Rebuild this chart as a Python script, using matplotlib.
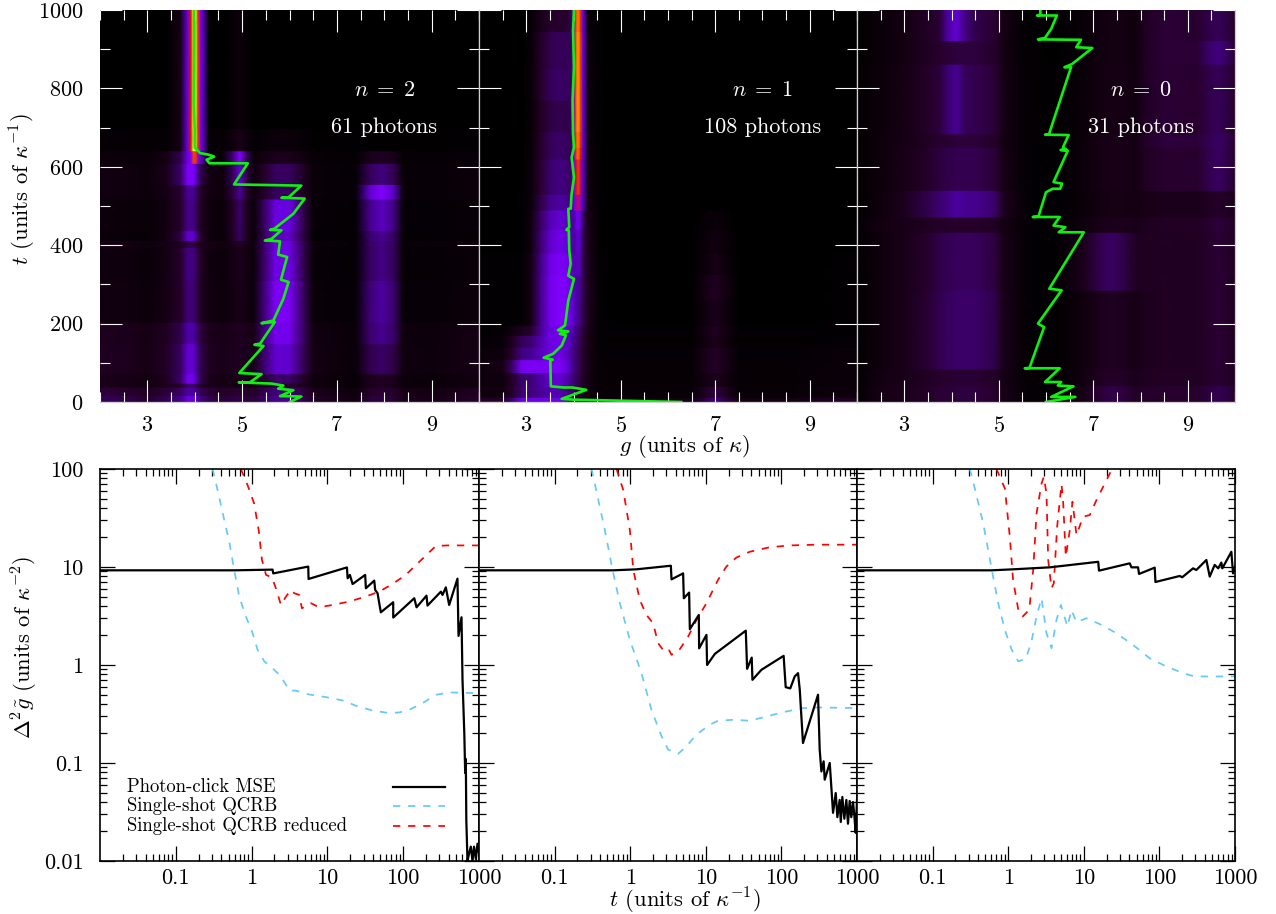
import numpy as np
import matplotlib
matplotlib.use('Agg')
import matplotlib.pyplot as plt
from matplotlib.colors import LinearSegmentedColormap
from matplotlib.ticker import LogLocator, NullFormatter

plt.rcParams['font.family'] = ['cmr10', 'DejaVu Serif']
plt.rcParams['mathtext.fontset'] = 'cm'
plt.rcParams['axes.formatter.use_mathtext'] = True
plt.rcParams['axes.unicode_minus'] = False

# ---- top row, green estimate g(t) for each trajectory ----
g_est_n2 = [3.99, 3.99, 3.98, 4.00, 4.00, 4.11, 4.29, 4.41, 4.25, 4.31, 5.12, 4.83, 6.25, 5.97, 5.83, 6.32, 6.08, 5.68, 5.59, 5.83, 5.62, 5.48, 5.80, 5.76, 5.95, 5.82, 5.98, 5.87, 5.66, 5.41, 5.69, 5.38, 5.26, 5.45, 4.94, 5.41, 5.16, 4.93, 5.62, 5.87, 5.76, 6.08, 5.80, 6.25, 6.01]
t_est_n2 = [1000, 854, 769, 692, 650, 635, 631, 626, 618, 609, 609, 555, 552, 521, 521, 519, 480, 442, 439, 438, 416, 412, 410, 376, 370, 312, 306, 263, 208, 201, 204, 149, 146, 143, 74, 71, 50, 50, 47, 42, 34, 30, 15, 14, 0]

g_est_n1 = [4.01, 3.99, 4.01, 3.98, 3.99, 4.01, 3.96, 4.01, 3.96, 3.94, 3.89, 3.91, 3.85, 3.90, 3.91, 3.94, 3.89, 4.01, 3.89, 3.82, 3.67, 3.89, 3.71, 3.84, 3.75, 3.57, 3.37, 3.56, 3.51, 3.52, 3.78, 3.98, 4.27, 3.75, 4.00, 6.28]
t_est_n1 = [1000, 947, 854, 769, 684, 650, 624, 573, 531, 493, 493, 446, 439, 438, 387, 353, 322, 314, 259, 195, 183, 180, 174, 170, 144, 123, 113, 108, 106, 40, 37, 37, 31, 8, 6, 0]

g_est_n0 = [5.88, 5.88, 5.81, 6.23, 6.11, 5.98, 5.83, 6.74, 6.64, 6.98, 6.55, 6.39, 6.53, 6.06, 5.98, 6.48, 6.36, 6.44, 6.31, 6.46, 6.16, 6.34, 6.30, 6.14, 6.00, 5.84, 5.72, 6.29, 6.16, 6.41, 6.27, 6.80, 6.07, 6.33, 5.83, 5.96, 5.65, 5.55, 6.29, 5.98, 6.32, 6.25, 6.58, 6.11, 6.62, 6.00]
t_est_n0 = [1000, 988, 986, 986, 952, 929, 925, 924, 905, 903, 862, 854, 854, 682, 682, 681, 650, 643, 643, 641, 561, 557, 544, 544, 535, 473, 472, 472, 450, 446, 433, 433, 289, 285, 200, 191, 87, 86, 86, 51, 51, 42, 40, 13, 13, 0]

# ---- top row, heat maps: g columns, band profiles, strength per click interval ----
g_cols_n2 = [2.0, 2.6, 3.0, 3.4, 3.7, 3.85, 3.92, 3.97, 4.02, 4.07, 4.13, 4.3, 4.6, 4.8, 4.95, 5.1, 5.25, 5.45, 5.7, 6.0, 6.3, 6.5, 7.4, 7.7, 7.95, 8.2, 8.4, 9.0, 10.0]
bands_n2 = [
    [0] * 4 + [.1, .5, .76, 1, 1, .8, .55, 0] + [0] * 17,
    [0, 0, 0, .1, .45, 1, 1, 1, .8, .6, .35, .05] + [0] * 17,
    [0] * 13 + [.5, 1, .4] + [0] * 13,
    [0] * 17 + [.5, 1, 1, .45] + [0] * 8,
    [0] * 23 + [.8, 1, .75, 0, 0, 0],
    [1, .9, .7, .9, .9, .9, .9, .9, .9, .9, .9, .9, .8, .8, .8, .8, .8, .8, .8, .8, .7, .6, .3, .5, .5, .5, .5, .4, .7],
]
t_edges_n2 = [0, 17, 38, 48, 72, 149, 204, 310, 395, 412, 437, 518, 555, 609, 641, 697, 1000]
levels_n2 = [
    [0, .25, .03, .15, .1, .27],
    [0, .2, .03, .15, .1, .22],
    [0, .2, 0, .1, .08, .12],
    [0, .42, .03, .2, .1, .12],
    [0, .34, .03, .35, .22, .15],
    [0, .28, .04, .42, .3, .14],
    [0, .25, .05, .5, .36, .08],
    [0, .28, .08, .46, .32, .07],
    [0, .15, .08, .42, .3, .1],
    [0, .42, .25, .42, .35, .05],
    [0, .3, .25, .45, .42, .06],
    [0, .3, .32, .22, .55, .08],
    [0, .5, .42, .22, .3, .08],
    [.8, .45, .55, .08, .12, .06],
    [1, 0, .1, .03, 0, .03],
    [1, 0, .06, 0, 0, 0],
]

g_cols_n1 = [2.0, 2.5, 2.7, 2.9, 3.1, 3.3, 3.5, 3.7, 3.85, 3.95, 4.02, 4.06, 4.1, 4.15, 4.2, 4.3, 4.5, 4.8, 6.5, 6.8, 7.0, 7.2, 7.5, 8.5, 9.5, 10.0]
bands_n1 = [
    [0] * 9 + [.3, .72, .9, .95, .85, .55, 0] + [0] * 10,
    [0, 0, 0, 0, .15, .6, .9, 1, .95, .85, .75, .7, .65, .55, .45, .25, .05, 0] + [0] * 8,
    [0, .1, .5, 1, .9, .5, .3, .2, .1, .05] + [0] * 16,
    [0] * 18 + [0, .6, 1, .6, 0, 0, 0, 0],
    [.6, .5, .5, .5, .5, .5, .5, .5, .4, .3, .2, .1, .1, .1, .1, .1, .2, .3, .3, .3, .3, .3, .3, .3, .5, .5],
]
t_edges_n1 = [0, 12, 40, 75, 108, 140, 170, 195, 260, 325, 380, 440, 490, 530, 620, 650, 690, 770, 850, 945, 1000]
levels_n1 = [
    [0, .3, .35, .25, .3],
    [.1, .32, .25, .2, .12],
    [.12, .38, .25, .1, .1],
    [.15, .42, .5, .15, .1],
    [.18, .42, .3, .15, .08],
    [.2, .46, .25, .12, .04],
    [.25, .5, .12, .15, .03],
    [.3, .58, 0, .12, .02],
    [.42, .58, 0, .15, .02],
    [.48, .56, 0, .1, .02],
    [.5, .52, 0, .08, 0],
    [.56, .48, 0, .05, 0],
    [.76, .4, 0, 0, 0],
    [.84, .34, 0, 0, 0],
    [.9, .3, 0, 0, 0],
    [.92, .3, 0, 0, 0],
    [.94, .26, 0, 0, 0],
    [.94, .3, 0, 0, 0],
    [.94, .28, 0, 0, 0],
    [.92, .2, 0, 0, 0],
]

g_cols_n0 = [2.0, 2.3, 2.6, 3.0, 3.5, 3.75, 3.9, 4.1, 4.3, 4.5, 4.9, 5.1, 5.6, 6.2, 6.8, 7.1, 7.35, 7.6, 7.9, 8.1, 8.5, 9.2, 9.45, 9.65, 9.85, 10.0]
bands_n0 = [
    [0] * 5 + [.1, .8, 1, .7, .3, 0] + [0] * 15,
    [0, 0, .05, .2, .6, .8, .9, 1, 1, 1, .8, .3, 0] + [0] * 13,
    [0] * 14 + [.4, .85, 1, .8, .35, .1] + [0] * 6,
    [0] * 18 + [0, .6, 1, .8, .8, .8, .7, .6],
    [0] * 21 + [.2, .8, 1, .7, .4],
    [.1, .5, .7, .8, .9, 1, 1, 1, 1, 1, .9, .6, .2, .1, .4, .6, .7, .8, .8, .8, .8, .8, .8, .9, .9, .7],
]
t_edges_n0 = [0, 42, 85, 285, 433, 472, 540, 650, 684, 862, 922, 1000]
levels_n0 = [
    [.08, .08, .14, .08, .06, .15],
    [.06, .08, .08, .06, .04, .13],
    [.12, .2, .08, .08, .06, .1],
    [.12, .18, .22, .08, .06, .1],
    [.08, .06, .04, .06, .06, .13],
    [.4, .27, .03, .05, .05, .1],
    [.26, .16, .04, .12, .1, .1],
    [.2, .12, .04, .15, .08, .1],
    [.38, .18, .04, .15, .08, .08],
    [.2, .16, .04, .16, .15, .07],
    [.48, .18, .04, .16, .08, .07],
]

# ---- bottom row ----
t_mse_n2 = [.0101, .6, 1.89, 1.93, 5.59, 5.64, 18.1, 18.5, 19.8, 21.5, 31.5, 32.2, 41.5, 42.7, 45.9, 48.3, 50.7, 73.8, 73.9, 140, 150, 203, 209, 314, 330, 365, 404, 520, 537, 588, 606, 640, 657, 670, 680, 705, 741, 780, 821, 860, 908, 955, 1000]
mse_n2 = [9.25, 9.25, 9.4, 8.6, 10.1, 7.55, 9.9, 7.67, 8.3, 6.7, 8.3, 6.07, 7.26, 5.83, 5.4, 4.27, 3.45, 4.37, 3.05, 4.8, 3.88, 5.1, 4.04, 5.6, 5.19, 6.2, 4.1, 7.6, 1.98, 3.07, .706, .2, .079, .11, .0265, .01, .012, .014, .01, .014, .0105, .015, .012]
t_qcrb_n2 = [.306, .356, .436, .507, .579, .687, .842, 1.03, 1.2, 1.47, 1.99, 2.44, 3.14, 3.84, 5.76, 9.56, 15.9, 23.8, 39.4, 65.4, 88.6, 120, 180, 270, 404, 1000]
qcrb_n2 = [100, 60.8, 30.1, 18.1, 10.1, 4.99, 3.12, 2.11, 1.43, 1.09, .893, .764, .55, .547, .50, .47, .435, .384, .343, .323, .328, .349, .408, .496, .525, .516]
t_red_n2 = [.723, .885, 1.08, 1.24, 1.37, 1.55, 1.85, 2.09, 2.44, 2.84, 3.3, 3.65, 4.25, 4.61, 6.06, 7.8, 11.7, 19.4, 32.2, 48.3, 72.3, 108, 163, 270, 384, 1000]
red_n2 = [100, 68.4, 44.5, 23.8, 11.8, 8.3, 7.85, 6.07, 4.1, 4.99, 5.83, 5.4, 5.19, 3.79, 4.27, 3.88, 4.1, 4.44, 5.0, 5.61, 6.71, 8.3, 11.3, 16.4, 16.6, 16.6]

t_mse_n1 = [.0101, .596, 1.21, 3.45, 3.52, 5.01, 5.12, 6.02, 6.15, 8.08, 8.16, 10.2, 10.4, 13.2, 33.8, 35.2, 40.5, 41.4, 54.4, 107, 114, 131, 150, 166, 175, 193, 305, 321, 338, 362, 374, 436, 482, 523, 550, 590, 610, 640, 680, 723, 760, 800, 840, 885, 920, 960, 1000]
mse_n1 = [9.25, 9.25, 9.47, 10.3, 7.48, 8.61, 4.8, 5.48, 2.32, 3.24, 1.48, 2.03, 1.0, 1.3, 2.24, .914, 1.19, .706, .893, 1.24, .594, .577, .764, .826, .558, .16, .497, .137, .082, .104, .0676, .1, .031, .0494, .028, .042, .025, .045, .027, .042, .024, .041, .028, .04, .03, .0194, .042]
t_qcrb_n1 = [.308, .359, .462, .585, .73, .99, 1.41, 1.91, 2.6, 3.18, 4.31, 5.55, 7.53, 11.3, 14.5, 23, 38.1, 63.4, 105, 193, 321, 1000]
qcrb_n1 = [100, 58.5, 23.8, 9.3, 4.27, 1.8, .826, .349, .187, .137, .124, .148, .195, .246, .27, .276, .27, .298, .33, .363, .369, .363]
t_red_n1 = [.66, .81, .99, 1.1, 1.34, 1.64, 2.01, 2.34, 2.87, 3.28, 3.52, 4.53, 5.84, 7.53, 10.2, 14.5, 18.7, 25.4, 38.1, 70, 129, 290, 1000]
red_n1 = [100, 60.8, 23.8, 9.3, 4.61, 3.24, 2.67, 1.67, 1.35, 1.41, 1.27, 1.45, 1.95, 2.88, 4.27, 7.37, 10.1, 12.5, 14.3, 15.9, 16.6, 16.9, 16.9]

t_mse_n0 = [.0101, .602, 1.16, 3.55, 15.5, 15.9, 40.5, 42.7, 52.2, 53.8, 86.7, 88.6, 186, 200, 279, 308, 418, 463, 538, 600, 660, 680, 895, 942, 1000]
mse_n0 = [9.25, 9.25, 9.47, 9.92, 11.3, 9.18, 10.9, 9.92, 9.92, 8.49, 9.85, 7.03, 8.1, 7.85, 9.69, 9.32, 11.8, 7.98, 10.5, 9.7, 11.1, 9.69, 14.3, 8.61, 10.1]
t_qcrb_n0 = [.311, .362, .467, .602, .738, .904, 1.11, 1.36, 1.71, 2.03, 2.37, 2.76, 3.21, 3.74, 4.35, 4.97, 6.08, 6.87, 8, 10.8, 16.3, 27, 44.9, 74.5, 124, 205, 293, 1000]
qcrb_n0 = [100, 63.2, 27.9, 9.69, 4.27, 2.28, 1.43, 1.09, 1.16, 1.73, 3.12, 4.8, 2.11, 1.48, 2.88, 4.1, 2.47, 3.65, 2.73, 3.0, 2.61, 2.11, 1.6, 1.17, .966, .826, .764, .764]
t_red_n0 = [.70, .904, 1.05, 1.16, 1.36, 1.55, 1.9, 2.14, 2.37, 2.76, 2.96, 3.21, 3.38, 3.74, 4.01, 4.44, 5.07, 5.33, 5.78, 6.53, 7.08, 8, 9.8, 12, 14.7, 23.2]
red_n0 = [100, 63.2, 20.4, 7.37, 3.65, 3.12, 3.65, 9.32, 35.2, 71.1, 83.2, 56.2, 11.8, 6.07, 6.82, 25.8, 70, 46.4, 12.7, 23.8, 46.4, 21.2, 32.6, 33.9, 48.2, 97]

top_labels = [r'$n\;=\;2$', r'$n\;=\;1$', r'$n\;=\;0$']
photon_labels = ['61 photons', '108 photons', '31 photons']
legend_labels = ['Photon-click MSE', 'Single-shot QCRB', 'Single-shot QCRB reduced']
g_ticks = [3, 5, 7, 9]
t_ticks = [0, 200, 400, 600, 800, 1000]
log_x_ticks = [.1, 1, 10, 100, 1000]
log_x_labels = ['0.1', '1', '10', '100', '1000']
log_y_ticks = [.01, .1, 1, 10, 100]
log_y_labels = ['0.01', '0.1', '1', '10', '100']

# black -> dim purple -> violet -> red -> orange -> yellow
heat = LinearSegmentedColormap.from_list('heat', [
    (0, '#000000'), (.1, '#160014'), (.2, '#28002e'), (.3, '#3a0068'), (.4, '#4c00a0'),
    (.5, '#6a00e0'), (.6, '#8400ff'), (.68, '#a000b0'), (.76, '#d81808'), (.86, '#ff7000'),
    (.94, '#ffd800'), (1, '#c8ff20')])

W, H = 1276, 914
fig = plt.figure(figsize=(W / 100, H / 100), dpi=100)


def px_axes(x0, y0, x1, y1):
    return fig.add_axes([x0 / W, 1 - y1 / H, (x1 - x0) / W, (y1 - y0) / H])


def heat_panel(ax, g_cols, bands, t_edges, levels):
    bands = np.array(bands, dtype=float)
    rows = []
    ys = []
    for i, lev in enumerate(levels):
        lev = np.array(lev)
        # the first band is the sharp peak, it sits on top of the others
        z = np.maximum(bands[0] * lev[0], (bands[1:] * lev[1:, None]).sum(axis=0))
        rows += [z, z]
        ys += [t_edges[i], t_edges[i + 1]]
    ax.pcolormesh(g_cols, ys, np.array(rows), cmap=heat, vmin=0, vmax=1, shading='gouraud')


xs = [(100, 479), (479, 857), (857, 1235)]
heat_data = [(g_cols_n2, bands_n2, t_edges_n2, levels_n2),
             (g_cols_n1, bands_n1, t_edges_n1, levels_n1),
             (g_cols_n0, bands_n0, t_edges_n0, levels_n0)]
green = [(g_est_n2, t_est_n2), (g_est_n1, t_est_n1), (g_est_n0, t_est_n0)]

for i, (x0, x1) in enumerate(xs):
    ax = px_axes(x0, 10, x1, 402)
    heat_panel(ax, *heat_data[i])
    ax.plot(green[i][0], green[i][1], color='#10f010', lw=1.9)
    ax.set_xlim(2, 10)
    ax.set_ylim(0, 1000)
    ax.set_xticks(g_ticks)
    ax.set_xticks(np.arange(2, 10.1, .5), minor=True)
    ax.set_yticks(t_ticks)
    ax.set_yticks(np.arange(0, 1001, 100), minor=True)
    ax.tick_params(which='major', direction='in', top=True, right=True, length=15.5, width=.8,
                   color='white', labelsize=16)
    ax.tick_params(axis='x', which='major', pad=10)
    ax.tick_params(axis='y', which='major', pad=12)
    ax.tick_params(which='minor', direction='in', top=True, right=True, length=7.5, width=.8, color='white')
    if i > 0:
        ax.set_yticklabels([])
    for s in ax.spines.values():
        s.set_color('#cfcfcf')
        s.set_linewidth(.9)
    ax.spines['top'].set_visible(False)
    if i == 0:
        ax.spines['left'].set_visible(False)
    ax.text(8, 795, top_labels[i], color='white', fontsize=16, ha='center', va='center')
    ax.text(8, 700, photon_labels[i], color='white', fontsize=16, ha='center', va='center')

bottom = [(t_mse_n2, mse_n2, t_qcrb_n2, qcrb_n2, t_red_n2, red_n2),
          (t_mse_n1, mse_n1, t_qcrb_n1, qcrb_n1, t_red_n1, red_n1),
          (t_mse_n0, mse_n0, t_qcrb_n0, qcrb_n0, t_red_n0, red_n0)]
styles = [dict(color='black', lw=1.6), dict(color='#66c8f8', lw=1.25, dashes=(4.2, 4.5)),
          dict(color='#ff0000', lw=1.25, dashes=(4.2, 4.5))]

for i, (x0, x1) in enumerate(xs):
    ax = px_axes(x0, 469, x1, 861)
    d = bottom[i]
    ax.plot(d[2], d[3], **styles[1])
    ax.plot(d[4], d[5], **styles[2])
    ax.plot(d[0], d[1], zorder=4, **styles[0])
    ax.set_xscale('log')
    ax.set_yscale('log')
    ax.set_xlim(.01, 1000)
    ax.set_ylim(.01, 100)
    ax.set_xticks(log_x_ticks)
    ax.set_xticklabels(log_x_labels)
    ax.set_yticks(log_y_ticks)
    if i == 0:
        ax.set_yticklabels(log_y_labels)
    else:
        ax.set_yticklabels([])
    for axis in (ax.xaxis, ax.yaxis):
        axis.set_minor_locator(LogLocator(base=10, subs=range(2, 10), numticks=20))
        axis.set_minor_formatter(NullFormatter())
    ax.tick_params(which='major', direction='in', top=True, right=True, length=10.5, width=.9, labelsize=16)
    ax.tick_params(axis='x', which='major', pad=5.5)
    ax.tick_params(axis='y', which='major', pad=12)
    ax.tick_params(which='minor', direction='in', top=True, right=True, length=5.2, width=.9)
    for s in ax.spines.values():
        s.set_linewidth(1.2)
    if i == 0:
        # key in the gnuplot layout: left aligned text, samples far to the right
        for k in range(3):
            ky = .1888 - k * .0497
            ax.text(.0712, ky, legend_labels[k], transform=ax.transAxes, fontsize=13.5, va='center')
            ax.plot([.773, .910], [ky, ky], transform=ax.transAxes, **styles[k])

fig.text(685 / W, 1 - 447 / H, r'$g$ (units of $\kappa$)', fontsize=16.3, ha='center', va='center')
fig.text(685 / W, 1 - 901 / H, r'$t$ (units of $\kappa^{-1}$)', fontsize=16.3, ha='center', va='center')
fig.text(23 / W, 1 - 189 / H, r'$t$ (units of $\kappa^{-1}$)', fontsize=16.3, rotation=90, ha='center', va='center')
fig.text(25 / W, 1 - 647 / H, r'$\Delta^2\tilde{g}$ (units of $\kappa^{-2}$)', fontsize=16.3, rotation=90, ha='center', va='center')

fig.savefig('out.png', dpi=100)
